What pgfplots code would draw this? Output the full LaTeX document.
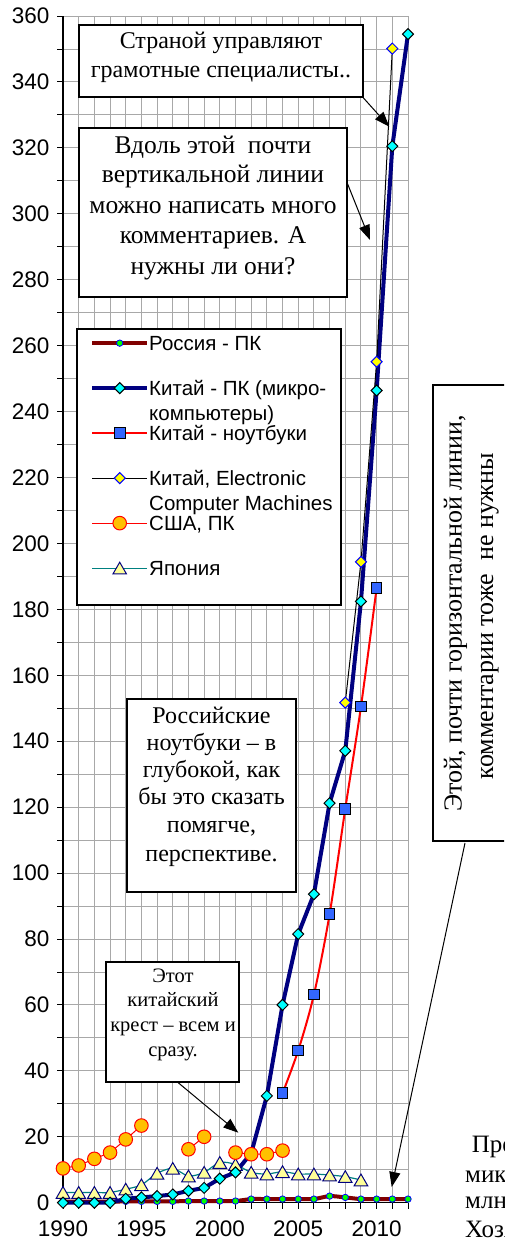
\documentclass[border=0pt]{standalone}
\usepackage{fontspec}
\setmainfont{Liberation Serif}
\newfontfamily\arial{Liberation Sans}
\usepackage{pgfplots}
\pgfplotsset{compat=1.18}
\usetikzlibrary{arrows.meta}

\definecolor{navyc}{HTML}{000080}
\definecolor{darkredc}{HTML}{800000}
\definecolor{tealc}{HTML}{008080}
\definecolor{cyanc}{HTML}{00FFFF}
\definecolor{bluesq}{HTML}{3366FF}
\definecolor{goldc}{HTML}{FFC000}
\definecolor{lightyel}{HTML}{FFFF99}
\definecolor{greenc}{HTML}{00FF00}
\definecolor{bluec}{HTML}{0000FF}
\definecolor{yelc}{HTML}{FFFF00}
\definecolor{gridc}{HTML}{A8A8A8}

\begin{document}
\begin{tikzpicture}
\useasboundingbox (0pt,0pt) rectangle (504pt,1241pt);
\clip (0pt,0pt) rectangle (504pt,1241pt);
\begin{axis}[
  at={(63pt,38.3pt)}, anchor=south west,
  scale only axis, width=345pt, height=1186.7pt,
  xmin=1990, xmax=2012, ymin=0, ymax=360,
  enlargelimits=false, clip=false,
  xtick={1990,1995,...,2010},
  minor xtick={1990,...,2012},
  ytick={0,20,...,360},
  minor ytick={10,30,...,350},
  grid=both,
  major grid style={gridc, line width=0.9pt},
  minor grid style={gridc, line width=0.9pt},
  axis x line*=bottom, axis y line*=left,
  axis line style={black, line width=1.2pt},
  tick align=outside,
  major tick length=6pt, minor tick length=6pt,
  tick style={black, line width=0.9pt},
  ticklabel style={font=\arial\fontsize{22.5}{26}\selectfont},
  xticklabel style={yshift=-9pt},
  yticklabel style={xshift=-4pt},
  /pgf/number format/assume math mode=true,
  /pgf/number format/1000 sep={},
  legend image code/.code={\draw[mark repeat=2,mark phase=2,#1] plot coordinates {(0pt,0pt) (27.5pt,0pt) (55pt,0pt)};},
  legend cell align=left,
  legend style={at={(0.0783,0.7325)}, anchor=north west, draw=none, fill=none,
    inner sep=0pt, row sep=26pt, column sep=0pt,
    font=\arial\fontsize{20.5}{25}\selectfont,
    nodes={inner sep=0pt, text height=17pt, text depth=2pt}},
]
% Japan (drawn first, legend entry added last)
\addplot[color=tealc, line width=1.2pt, smooth, forget plot,
  mark=triangle*, mark size=7.8pt,
  mark options={fill=lightyel, draw=navyc, line width=1pt, yshift=-1.9pt}]
  coordinates {(1990,3.1)(1991,3.1)(1992,3.1)(1993,3.1)(1994,4.1)(1995,5.4)(1996,8.9)(1997,10.4)(1998,8.1)(1999,9.2)(2000,12.2)(2001,11.6)(2002,9.2)(2003,8.7)(2004,9.4)(2005,8.7)(2006,8.7)(2007,8.4)(2008,7.9)(2009,6.9)};
% Russia
\addplot[color=darkredc, line width=4pt, smooth,
  mark=*, mark size=3.2pt, mark options={fill=greenc, draw=bluec, line width=0.8pt}]
  coordinates {(1990,0.3)(1991,0.3)(1992,0.3)(1993,0.3)(1994,0.4)(1995,0.4)(1996,0.4)(1997,0.4)(1998,0.5)(1999,0.5)(2000,0.5)(2001,0.5)(2002,1.1)(2003,1.1)(2004,1.1)(2005,1.1)(2006,1.1)(2007,2.0)(2008,1.6)(2009,1.1)(2010,1.1)(2011,1.1)(2012,1.1)};
\addlegendentry{Россия - ПК}
% China PC
\addplot[color=navyc, line width=4pt,
  mark=square*, mark size=3.9pt, mark options={fill=cyanc, draw=black, line width=1pt, rotate=45}]
  coordinates {(1990,0)(1991,0)(1992,0)(1993,0)(1994,1.2)(1995,1.6)(1996,2.0)(1997,2.5)(1998,3.6)(1999,4.5)(2000,7.3)(2001,9.2)(2002,15)(2003,32.4)(2004,60)(2005,81.5)(2006,93.6)(2007,121.2)(2008,137.1)(2009,182.4)(2010,246.4)(2011,320.5)(2012,354.5)};
\addlegendentry{\begin{tabular}[t]{@{}l@{}}Китай - ПК (микро-\\компьютеры)\end{tabular}}
% China notebooks
\addplot[color=red, line width=2pt, smooth,
  mark=square*, mark size=5.3pt, mark options={fill=bluesq, draw=black, line width=1pt}]
  coordinates {(2004,33.2)(2005,46.2)(2006,63.1)(2007,87.5)(2008,119.5)(2009,150.5)(2010,186.5)};
\addlegendentry{Китай - ноутбуки}
% China ECM
\addplot[color=black, line width=1pt,
  mark=square*, mark size=3.9pt, mark options={fill=yelc, draw=bluec, line width=1pt, rotate=45}]
  coordinates {(2008,151.7)(2009,194.4)(2010,255.1)(2011,350.1)};
\addlegendentry{\begin{tabular}[t]{@{}l@{}}Китай, Electronic\\Computer Machines\end{tabular}}
% USA
\addplot[color=red, line width=1pt, unbounded coords=jump,
  mark=*, mark size=6.8pt, mark options={fill=goldc, draw=red, line width=1pt}]
  coordinates {(1990,10.4)(1991,11.3)(1992,13.3)(1993,15.2)(1994,19.2)(1995,23.4)(1996,nan)(1997,nan)(1998,16.2)(1999,20.0)(2000,nan)(2001,15.2)(2002,14.7)(2003,14.7)(2004,15.8)};
\addlegendentry{США, ПК}
\addlegendimage{color=tealc, line width=1.2pt, mark=triangle*, mark size=7.8pt,
  mark options={fill=lightyel, draw=navyc, line width=1pt, yshift=-1.9pt}}
\addlegendentry{Япония}
% legend frame
\draw[black, line width=1.2pt, fill=white] (axis description cs:0.0406,0.7362) rectangle (axis description cs:0.8058,0.5037);
\end{axis}

% annotation boxes
\tikzset{ann/.style={anchor=base, inner sep=0pt}}
% Box 1
\draw[line width=1.2pt, fill=white] (79pt,1216pt) rectangle (363pt,1144pt);
\begin{scope}[font=\fontsize{24}{29}\selectfont]
\node[ann] at (221pt,1192.7pt) {Страной управляют};
\node[ann] at (221pt,1163.7pt) {грамотные специалисты..};
\end{scope}
\draw[line width=1pt, -{Triangle[length=15pt,width=11pt]}] (362.3pt,1144.3pt) -- (389.3pt,1114.3pt);
% Box 2
\draw[line width=1.2pt, fill=white] (79pt,1113pt) rectangle (347pt,944pt);
\begin{scope}[font=\fontsize{25.5}{29}\selectfont]
\node[ann] at (213pt,1087.7pt) {Вдоль этой \ почти};
\node[ann] at (213pt,1058.3pt) {вертикальной линии};
\node[ann] at (213pt,1027.7pt) {можно написать много};
\node[ann] at (213pt,997pt) {комментариев. А};
\node[ann] at (213pt,966pt) {нужны ли они?};
\end{scope}
\draw[line width=1pt, -{Triangle[length=15pt,width=11pt]}] (346.7pt,1059.3pt) -- (370pt,1001pt);
% Box 3
\draw[line width=1.2pt, fill=white] (127pt,542pt) rectangle (296pt,349pt);
\begin{scope}[font=\fontsize{24}{29}\selectfont]
\node[ann] at (211.5pt,517.7pt) {Российские};
\node[ann] at (211.5pt,490.3pt) {ноутбуки – в};
\node[ann] at (211.5pt,463.3pt) {глубокой, как};
\node[ann] at (211.5pt,436pt) {бы это сказать};
\node[ann] at (211.5pt,408.3pt) {помягче,};
\node[ann] at (211.5pt,379.3pt) {перспективе.};
\end{scope}
% Box 4
\draw[line width=1.2pt, fill=white] (106pt,279pt) rectangle (239pt,159pt);
\begin{scope}[font=\fontsize{20.5}{25}\selectfont]
\node[ann] at (173pt,258.3pt) {Этот};
\node[ann] at (173pt,234.3pt) {китайский};
\node[ann] at (173pt,209.3pt) {крест – всем и};
\node[ann] at (173pt,184.3pt) {сразу.};
\end{scope}
\draw[line width=1pt, -{Triangle[length=15pt,width=11pt]}] (177pt,159.3pt) -- (238.3pt,108.3pt);
% Rotated box
\draw[line width=1.2pt, fill=white] (433pt,856pt) rectangle (530pt,400pt);
\begin{scope}[font=\fontsize{26}{29}\selectfont]
\node[ann, rotate=90] at (461.7pt,627.5pt) {Этой, почти горизонтальной линии,};
\node[ann, rotate=90] at (493pt,625pt) {комментарии тоже \ не нужны};
\end{scope}
\draw[line width=1pt, -{Triangle[length=15pt,width=11pt]}] (465pt,398pt) -- (391.7pt,54pt);
% bottom right partial text
\begin{scope}[font=\fontsize{25}{28}\selectfont]
\node[anchor=base west, inner sep=0pt] at (471.7pt,88pt) {Предварительно};
\node[anchor=base west, inner sep=0pt] at (465pt,58pt) {микрокомпьютеры};
\node[anchor=base west, inner sep=0pt] at (465pt,32pt) {млн};
\node[anchor=base west, inner sep=0pt] at (465pt,3pt) {Хозяйство};
\end{scope}
\end{tikzpicture}
\end{document}
